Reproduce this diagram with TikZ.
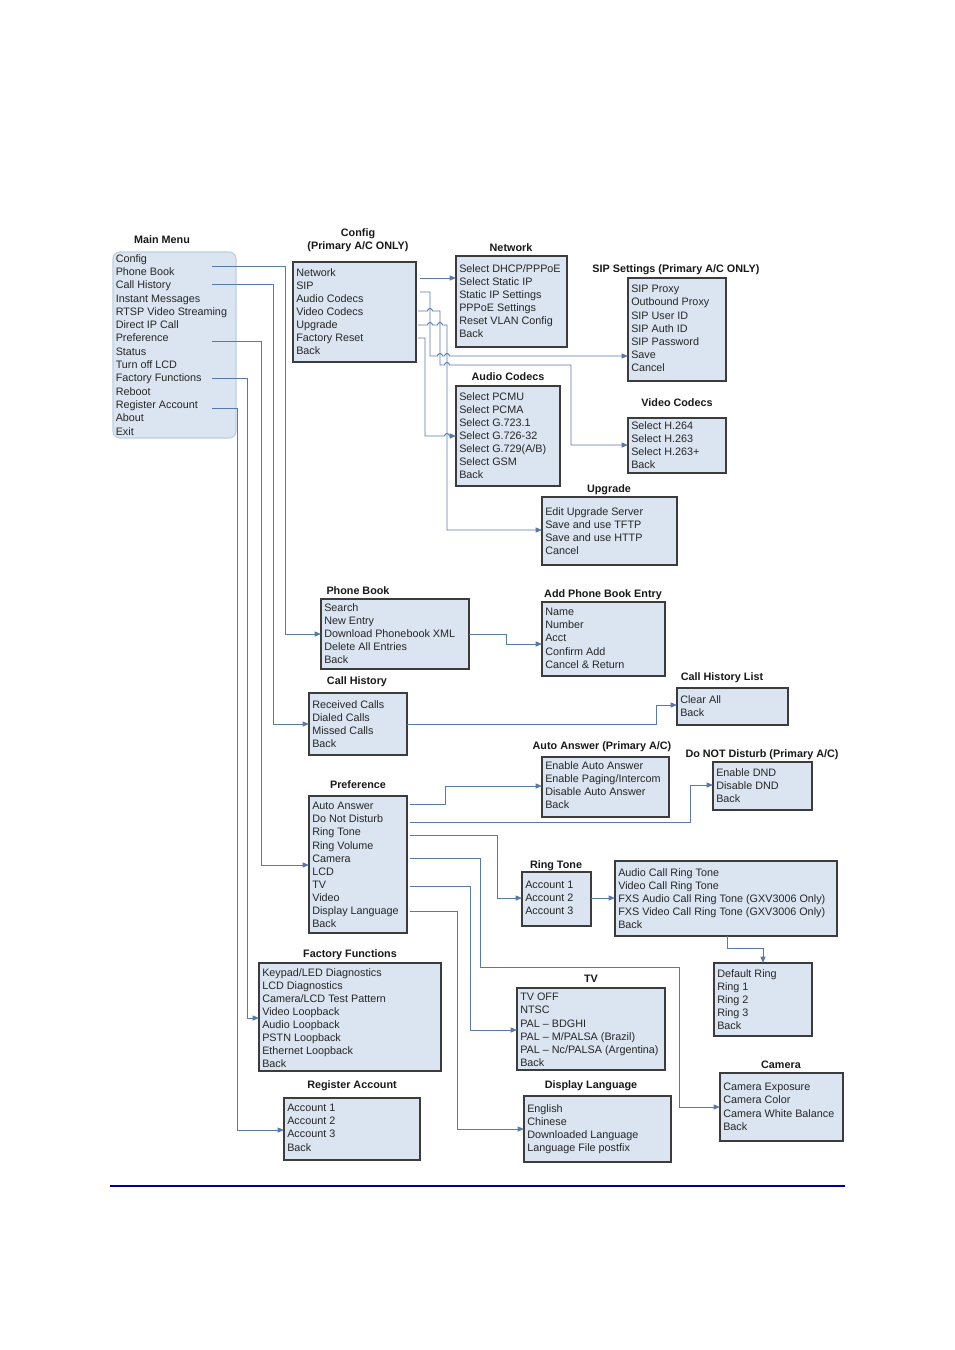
\documentclass[tikz,border=0pt]{standalone}
\usepackage{fontspec}
\newfontfamily\arial{Liberation Sans}
\usetikzlibrary{arrows.meta,fit}
\definecolor{boxfill}{RGB}{219,229,241}
\definecolor{boxdraw}{RGB}{60,60,60}
\definecolor{mainborder}{RGB}{190,206,226}
\definecolor{conn}{RGB}{88,122,170}
\definecolor{rulecol}{RGB}{0,0,140}
\tikzset{
  mbox/.style={draw=boxdraw,fill=boxfill,line width=0.8pt,inner sep=0pt},
  mainbox/.style={draw=mainborder,fill=boxfill,line width=0.8pt,inner sep=0pt,rounded corners=5pt},
  txt/.style={font=\arial\fontsize{8.1}{9.83}\selectfont,align=left,inner sep=0pt,text=black!85},
  mtxt/.style={font=\arial\fontsize{8.1}{9.98}\selectfont,align=left,inner sep=0pt,text=black!85},
  ttl/.style={font=\arial\bfseries\fontsize{8.1}{9.8}\selectfont,inner sep=0pt,anchor=base,text=black!90},
  arr/.style={draw=conn,line width=0.7pt,-{Triangle[length=4.8pt,width=3.8pt,fill=conn]}}
}
\newcommand\mb[7]{%
  \node[mbox,fit={(#2,#3) (#4,#5)}] (#1) {};
  \node[txt,anchor=north west] (#1t) at ({#2+3},{#6-4.0}) {#7};}
\begin{document}
\begin{tikzpicture}[x=0.75pt,y=-0.75pt]
\useasboundingbox (0,0) rectangle (954,1350);
\fill[white] (0,0) rectangle (954,1350);

% ---------- Main menu ----------
\node[ttl] (tMM) at (162,243.9) {Main Menu};
\node[mainbox,fit={(113,252) (236,438)}] (mm) {};
\node[mtxt,anchor=north west] (mmt) at (115.5,254.0) {Config\\Phone Book\\Call History\\Instant Messages\\RTSP Video Streaming\\Direct IP Call\\Preference\\Status\\Turn off LCD\\Factory Functions\\Reboot\\Register Account\\About\\Exit};

% ---------- Boxes ----------
\node[ttl] (tCfg1) at (358,236.9) {Config};
\node[ttl] (tCfg2) at (358,249.9) {(Primary A/C ONLY)};
\mb{cfg}{293}{262}{416}{362}{272}{Network\\SIP\\Audio Codecs\\Video Codecs\\Upgrade\\Factory Reset\\Back}

\node[ttl] (tNet) at (511,251.9) {Network};
\mb{net}{456}{256}{567}{347}{268}{Select DHCP/PPPoE\\Select Static IP\\Static IP Settings\\PPPoE Settings\\Reset VLAN Config\\Back}

\node[ttl] (tSip) at (676,272.9) {SIP Settings (Primary A/C ONLY)};
\mb{sip}{628}{278}{726}{381}{289}{SIP Proxy\\Outbound Proxy\\SIP User ID\\SIP Auth ID\\SIP Password\\Save\\Cancel}

\node[ttl] (tAud) at (508,380.9) {Audio Codecs};
\mb{aud}{456}{386}{560}{486}{396}{Select PCMU\\Select PCMA\\Select G.723.1\\Select G.726-32\\Select G.729(A/B)\\Select GSM\\Back}

\node[ttl] (tVid) at (677,406.9) {Video Codecs};
\mb{vid}{628}{418}{726}{473}{425}{Select H.264\\Select H.263\\Select H.263+\\Back}

\node[ttl] (tUpg) at (609,492.9) {Upgrade};
\mb{upg}{542}{497}{677}{565}{511}{Edit Upgrade Server\\Save and use TFTP\\Save and use HTTP\\Cancel}

\node[ttl] (tPb) at (358,594.9) {Phone Book};
\mb{pb}{321}{599}{469}{669}{607}{Search\\New Entry\\Download Phonebook XML\\Delete All Entries\\Back}

\node[ttl] (tApe) at (603,597.9) {Add Phone Book Entry};
\mb{ape}{542}{602}{665}{676}{612}{Name\\Number\\Acct\\Confirm Add\\Cancel \& Return}

\node[ttl] (tCh) at (357,684.9) {Call History};
\mb{ch}{309}{693}{407}{755}{704}{Received Calls\\Dialed Calls\\Missed Calls\\Back}

\node[ttl] (tChl) at (722,680.9) {Call History List};
\mb{chl}{677}{688}{788}{725}{699}{Clear All\\Back}

\node[ttl] (tAa) at (602,749.9) {Auto Answer (Primary A/C)};
\mb{aa}{542}{757}{669}{817}{765}{Enable Auto Answer\\Enable Paging/Intercom\\Disable Auto Answer\\Back}

\node[ttl] (tDnd) at (762,757.9) {Do NOT Disturb (Primary A/C)};
\mb{dnd}{713}{762}{812}{810}{772}{Enable DND\\Disable DND\\Back}

\node[ttl] (tPref) at (358,788.9) {Preference};
\mb{pref}{309}{796}{407}{933}{806}{Auto Answer\\Do Not Disturb\\Ring Tone\\Ring Volume\\Camera\\LCD\\TV\\Video\\Display Language\\Back}

\node[ttl] (tRt) at (556,868.9) {Ring Tone};
\mb{rt}{522}{872}{591}{926}{885}{Account 1\\Account 2\\Account 3}

\mb{rts}{615}{861}{837}{936}{872}{Audio Call Ring Tone\\Video Call Ring Tone\\FXS Audio Call Ring Tone (GXV3006 Only)\\FXS Video Call Ring Tone (GXV3006 Only)\\Back}

\mb{dr}{714}{963}{812}{1036}{973}{Default Ring\\Ring 1\\Ring 2\\Ring 3\\Back}

\node[ttl] (tFf) at (350,957.9) {Factory Functions};
\mb{ff}{259}{963}{441}{1071}{972}{Keypad/LED Diagnostics\\LCD Diagnostics\\Camera/LCD Test Pattern\\Video Loopback\\Audio Loopback\\PSTN Loopback\\Ethernet Loopback\\Back}

\node[ttl] (tTv) at (591,982.9) {TV};
\mb{tv}{517}{988}{665}{1070}{997}{TV OFF\\NTSC\\PAL \textendash{} BDGHI\\PAL \textendash{} M/PALSA (Brazil)\\PAL \textendash{} Nc/PALSA (Argentina)\\Back}

\node[ttl] (tReg) at (352,1088.9) {Register Account};
\mb{reg}{284}{1098}{420}{1160}{1108}{Account 1\\Account 2\\Account 3\\Back}

\node[ttl] (tDl) at (591,1088.9) {Display Language};
\mb{dl}{524}{1096}{671}{1162}{1108}{English\\Chinese\\Downloaded Language\\Language File postfix}

\node[ttl] (tCam) at (781,1068.9) {Camera};
\mb{cam}{720}{1073}{843}{1141}{1087}{Camera Exposure\\Camera Color\\Camera White Balance\\Back}

% ---------- connector end points ----------
\coordinate (mmPB) at (212,266);
\coordinate (mmCH) at (212,284);
\coordinate (mmPR) at (212,341);
\coordinate (mmFF) at (212,378);
\coordinate (mmRA) at (212,408);
\coordinate (pbIn) at (321,634);
\coordinate (chIn) at (309,724);
\coordinate (prIn) at (309,865);
\coordinate (ffIn) at (259,1018);
\coordinate (raIn) at (284,1130);

\coordinate (cfNet) at (420,278);
\coordinate (cfSip) at (420,292);
\coordinate (cfVid) at (418,311);
\coordinate (cfUpg) at (418,325);
\coordinate (cfAud) at (418,338);
\coordinate (netIn) at (456,278);
\coordinate (sipIn) at (628,356);
\coordinate (vidIn) at (628,445);
\coordinate (upgIn) at (542,530);
\coordinate (audIn) at (456,436);

\coordinate (pbOut) at (469,634);
\coordinate (apeIn) at (542,644);
\coordinate (chOut) at (407,724);
\coordinate (chlIn) at (677,705);
\coordinate (prAA) at (410,804);
\coordinate (prDND) at (410,822);
\coordinate (prRT) at (410,835);
\coordinate (prCam) at (410,858);
\coordinate (prTV) at (410,886);
\coordinate (prDL) at (410,911);
\coordinate (aaIn) at (542,786);
\coordinate (dndIn) at (713,785);
\coordinate (rtIn) at (522,898);
\coordinate (camIn) at (720,1107);
\coordinate (tvIn) at (517,1030);
\coordinate (dlIn) at (524,1129);
\coordinate (rtOut) at (591,898);
\coordinate (rtsIn) at (615,898);
\coordinate (rtsOut) at (727,936);
\coordinate (drIn) at (763,963);

% ---------- main menu connectors ----------
\draw[arr] (mmPB) -| (285,634) -- (pbIn);
\draw[arr] (mmCH) -| (273,724) -- (chIn);
\draw[arr] (mmPR) -| (261,865) -- (prIn);
\draw[arr] (mmFF) -| (247,1018) -- (ffIn);
\draw[arr] (mmRA) -| (237,1130) -- (raIn);

% ---------- config connectors (with hops) ----------
\draw[arr] (cfNet) -- (netIn);
\draw[arr] (cfSip) -| (430,356) -- (437.5,356) arc (180:360:2.5) -- (444.5,356) arc (180:360:2.5) -- (sipIn);
\draw[arr] (cfVid) -- (427.5,311) arc (180:360:2.5) -- (440,311) -- (440,365) -- (444.5,365) arc (180:360:2.5) -- (571,365) -- (571,445) -- (vidIn);
\draw[arr] (cfUpg) -- (427.5,325) arc (180:360:2.5) -- (437.5,325) arc (180:360:2.5) -- (447,325) -- (447,530) -- (upgIn);
\draw[arr] (cfAud) -| (425,436) -- (444.5,436) arc (180:360:2.5) -- (audIn);

% ---------- other connectors ----------
\draw[arr] (pbOut) -| (506,644) -- (apeIn);
\draw[arr] (chOut) -| (656,705) -- (chlIn);
\draw[arr] (prAA) -| (445,786) -- (aaIn);
\draw[arr] (prDND) -| (690,785) -- (dndIn);
\draw[arr] (prRT) -| (497,898) -- (rtIn);
\draw[arr] (prCam) -| (480,967) -| (679,1107) -- (camIn);
\draw[arr] (prTV) -| (470,1030) -- (tvIn);
\draw[arr] (prDL) -| (457,1129) -- (dlIn);
\draw[arr] (rtOut) -- (rtsIn);
\draw[arr] (rtsOut) |- (763,948) -- (drIn);

% ---------- bottom rule ----------
\coordinate (ruleL) at (110,1186);
\coordinate (ruleR) at (845,1186);
\draw[rulecol,line width=1.5pt] (ruleL) -- (ruleR);
\end{tikzpicture}
\end{document}
